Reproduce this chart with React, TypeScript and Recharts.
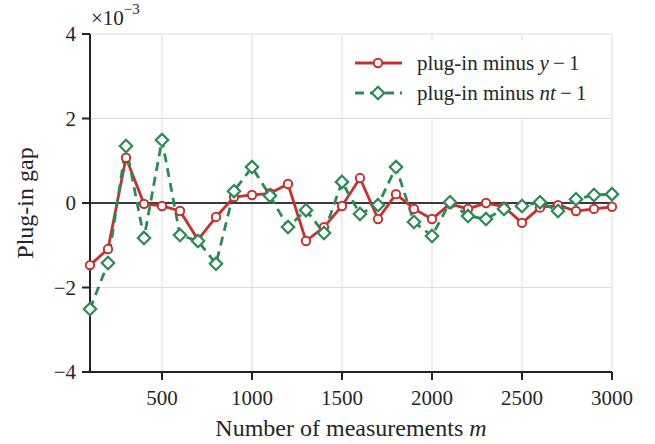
import React from 'react';
import { LineChart, Line, XAxis, YAxis, CartesianGrid, ReferenceLine, Legend } from 'recharts';

const measurements = [100, 200, 300, 400, 500, 600, 700, 800, 900, 1000, 1100, 1200, 1300, 1400, 1500, 1600, 1700, 1800, 1900, 2000, 2100, 2200, 2300, 2400, 2500, 2600, 2700, 2800, 2900, 3000];
const gapY = [-1.47, -1.09, 1.07, -0.02, -0.07, -0.19, -0.87, -0.33, 0.14, 0.19, 0.23, 0.45, -0.9, -0.57, -0.07, 0.59, -0.38, 0.21, -0.14, -0.38, -0.02, -0.14, 0.0, -0.09, -0.47, -0.11, -0.05, -0.19, -0.14, -0.09];
const gapNT = [-2.51, -1.42, 1.35, -0.83, 1.49, -0.76, -0.9, -1.44, 0.28, 0.85, 0.17, -0.57, -0.17, -0.71, 0.5, -0.26, -0.05, 0.85, -0.45, -0.78, 0.02, -0.31, -0.38, -0.14, -0.07, 0.02, -0.19, 0.09, 0.19, 0.21];
const xTicks = [500, 1000, 1500, 2000, 2500, 3000];
const yTicks = [-4, -2, 0, 2, 4];

const RED = '#c8302f';
const GREEN = '#2b8a57';
const FONT = "'Liberation Serif', 'Times New Roman', serif";
const TEXT = '#262626';

const data = measurements.map((m, i) => ({ m, gy: gapY[i], gnt: gapNT[i] }));

const fmt = (v: number) => (v < 0 ? '\u2212' + Math.abs(v) : String(v));

const Diamond = (props: any) => {
  const { cx, cy, index } = props;
  if (cx == null || cy == null) return <g key={'d' + index} />;
  const s = 6.2;
  return (
    <path
      key={'d' + index}
      d={`M${cx},${cy - s}L${cx + s},${cy}L${cx},${cy + s}L${cx - s},${cy}Z`}
      fill="#fff"
      stroke={GREEN}
      strokeWidth={2.2}
    />
  );
};

const renderLegend = () => (
  <svg width={262} height={78} style={{ display: 'block' }}>
    <rect x={0} y={0} width={262} height={78} fill="rgba(255,255,255,0.85)" />
    <line x1={10} y1={23} x2={57} y2={23} stroke={RED} strokeWidth={2.8} />
    <circle cx={33} cy={23} r={4.2} fill="#fff" stroke={RED} strokeWidth={2} />
    <text x={72} y={30} fontFamily={FONT} fontSize={21} fill={TEXT}>
      plug-in minus <tspan fontStyle="italic">y</tspan>
      <tspan>{'\u2009\u2212\u20091'}</tspan>
    </text>
    <line x1={10} y1={53} x2={57} y2={53} stroke={GREEN} strokeWidth={2.8} strokeDasharray="9 6" />
    <path d="M33,46.8L39.2,53L33,59.2L26.8,53Z" fill="#fff" stroke={GREEN} strokeWidth={2.2} />
    <text x={72} y={60} fontFamily={FONT} fontSize={21} fill={TEXT}>
      plug-in minus <tspan fontStyle="italic">nt</tspan>
      <tspan>{'\u2009\u2212\u20091'}</tspan>
    </text>
  </svg>
);

export default function App() {
  return (
    <div style={{ position: 'absolute', left: 0, top: 0, width: 655, height: 444, background: '#fff' }}>
      <LineChart width={655} height={444} data={data} margin={{ top: 34, right: 43, bottom: 42, left: 0 }}>
        <CartesianGrid stroke="#dddddd" strokeWidth={1} />
        <XAxis
          dataKey="m"
          type="number"
          domain={[100, 3000]}
          ticks={xTicks}
          interval={0}
          height={30}
          axisLine={{ stroke: '#222', strokeWidth: 2 }}
          tickLine={{ stroke: '#222', strokeWidth: 2 }}
          tickSize={8}
          tickMargin={10}
          tick={{ fontFamily: FONT, fontSize: 21, fill: TEXT }}
          label={(p: any) => {
            const vb = p.viewBox || {};
            return (
              <text x={vb.x + vb.width / 2} y={436} textAnchor="middle" fontFamily={FONT} fontSize={24} fill={TEXT}>
                Number of measurements <tspan fontStyle="italic">m</tspan>
              </text>
            );
          }}
        />
        <YAxis
          type="number"
          domain={[-4, 4]}
          ticks={yTicks}
          interval={0}
          width={90}
          allowDataOverflow
          axisLine={{ stroke: '#222', strokeWidth: 2 }}
          tickLine={{ stroke: '#222', strokeWidth: 2 }}
          tickSize={8}
          tickMargin={6}
          tickFormatter={fmt}
          tick={{ fontFamily: FONT, fontSize: 21, fill: TEXT }}
          label={(p: any) => {
            const vb = p.viewBox || {};
            const cy = vb.y + vb.height / 2;
            return (
              <g>
                <text x={33} y={cy} transform={`rotate(-90, 33, ${cy})`} textAnchor="middle" fontFamily={FONT} fontSize={24} fill={TEXT}>
                  Plug-in gap
                </text>
                <text x={91} y={25} fontFamily={FONT} fontSize={21} fill={TEXT}>
                  {'\u00d710'}
                  <tspan fontSize={15} dy={-11}>{'\u22123'}</tspan>
                </text>
              </g>
            );
          }}
        />
        <ReferenceLine y={0} stroke="#3a3a3a" strokeWidth={2} />
        <Legend
          layout="horizontal"
          verticalAlign="middle"
          align="center"
          content={renderLegend}
          wrapperStyle={{ left: 345, top: 40, width: 262, height: 78 }}
        />
        <Line
          type="linear"
          dataKey="gy"
          stroke={RED}
          strokeWidth={2.8}
          dot={{ r: 4.2, fill: '#fff', stroke: RED, strokeWidth: 2 }}
          activeDot={false}
          isAnimationActive={false}
        />
        <Line
          type="linear"
          dataKey="gnt"
          stroke={GREEN}
          strokeWidth={2.8}
          strokeDasharray="9 6"
          dot={<Diamond />}
          activeDot={false}
          isAnimationActive={false}
        />
      </LineChart>
    </div>
  );
}
